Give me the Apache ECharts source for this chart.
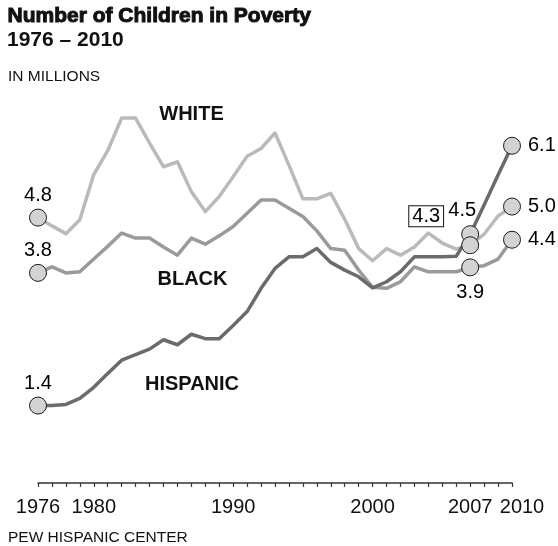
<!DOCTYPE html>
<html><head><meta charset="utf-8">
<script src="https://cdn.jsdelivr.net/npm/echarts@6/dist/echarts.min.js"></script>
<style>html,body{margin:0;padding:0;background:#fff}#c{width:558px;height:546px}</style>
</head><body><div id="c"></div>
<script>
const years = [1976,1977,1978,1979,1980,1981,1982,1983,1984,1985,1986,1987,1988,1989,1990,1991,1992,1993,1994,1995,1996,1997,1998,1999,2000,2001,2002,2003,2004,2005,2006,2007,2008,2009,2010];
const white = [4.8,4.65,4.51,4.76,5.58,6.01,6.6,6.6,6.15,5.72,5.81,5.27,4.91,5.18,5.54,5.91,6.05,6.33,5.75,5.14,5.14,5.24,4.77,4.24,4.02,4.24,4.12,4.27,4.52,4.34,4.23,4.3,4.5,4.83,5.0];
const black = [3.8,3.91,3.8,3.82,4.05,4.28,4.52,4.43,4.43,4.27,4.12,4.43,4.32,4.47,4.64,4.88,5.12,5.12,4.97,4.82,4.56,4.24,4.21,3.85,3.54,3.52,3.64,3.91,3.82,3.82,3.82,3.9,3.93,4.05,4.4];
const hispanic = [1.4,1.4,1.42,1.53,1.73,1.98,2.22,2.32,2.42,2.59,2.5,2.69,2.61,2.61,2.85,3.1,3.52,3.88,4.09,4.09,4.24,3.99,3.85,3.73,3.53,3.64,3.82,4.09,4.09,4.09,4.1,4.5,5.03,5.57,6.1];
const tickLabels = [1976,1980,1990,2000,2007,2010];
const endYears = [1976,2007,2010];
const groupNames = ['WHITE','BLACK','HISPANIC'];

const FONT = 'Liberation Sans';
const C_WHITE = '#bababa', C_BLACK = '#9a9a9a', C_HISP = '#6b6b6b';

const chart = echarts.init(document.getElementById('c'), null, {renderer:'canvas'});
const pairs = vals => years.map((y,i)=>[y, vals[i]]);
const val = (vals, y) => vals[years.indexOf(y)];
const fmt = p => p.value[1].toFixed(1);
const baseLabel = {show:true, formatter:fmt, fontFamily:FONT, fontSize:20, color:'#000', opacity:1, textBorderWidth:0};

function endPoints(vals, labels){
  return endYears.map((y,i)=>({value:[y, val(vals,y)], label:Object.assign({}, baseLabel, labels[i])}));
}

const lineSeries = (name, vals, color) => ({
  type:'line', name, data:pairs(vals), symbol:'none', z:2,
  lineStyle:{color, width:3.5, cap:'round', join:'round', opacity:1}, silent:true, animation:false
});
const dotSeries = (name, data) => ({
  type:'scatter', name, data, symbol:'circle', symbolSize:17, z:5,
  itemStyle:{color:'#d3d3d3', borderColor:'#1a1a1a', borderWidth:1, opacity:1}, animation:false, silent:true
});
const txt = (text, size, weight, extra) => Object.assign({text, fontFamily:FONT, fontSize:size, fontWeight:weight, fill:'#111'}, extra||{});

const option = {
  animation:false,
  grid:{left:38, right:46, top:96, bottom:60.3, containLabel:false},
  xAxis:{type:'value', min:1976, max:2010, interval:1,
    axisLine:{show:true, lineStyle:{color:'#333', width:1.5}},
    axisTick:{show:true, length:4, lineStyle:{color:'#333', width:1.2}},
    splitLine:{show:false},
    axisLabel:{show:true, showMinLabel:true, showMaxLabel:true, margin:12, fontFamily:FONT, fontSize:20, color:'#111',
      formatter:v => tickLabels.includes(v) ? (v===2010 ? '{r|2010}' : String(v)) : '',
      rich:{r:{fontFamily:FONT, fontSize:20, color:'#111', padding:[0,0,0,20]}}}
  },
  yAxis:{type:'value', min:-0.05, max:7, show:false, splitLine:{show:false}},
  series:[
    lineSeries('White', white, C_WHITE),
    lineSeries('Black', black, C_BLACK),
    lineSeries('Hispanic', hispanic, C_HISP),
    dotSeries('Black pts', endPoints(black, [
      {position:'top', distance:3},
      {position:'bottom', distance:6},
      {position:'right', distance:7}
    ])),
    dotSeries('Hispanic pts', endPoints(hispanic, [
      {position:'top', distance:3},
      {position:'top', distance:5, offset:[-8,0]},
      {position:'right', distance:7}
    ])),
    dotSeries('White pts', endPoints(white, [
      {position:'top', distance:3},
      {position:'inside', offset:[-44,-29], backgroundColor:'#fff', borderColor:'#111', borderWidth:1, padding:[1,3,-1,3]},
      {position:'right', distance:7}
    ]))
  ],
  graphic:[
    {type:'text', left:7, top:5.5, style:txt('Number of Children in Poverty', 21, 'bold')},
    {type:'text', left:7, top:30, style:txt('1976 \u2013 2010', 21, 'bold')},
    {type:'text', left:8, top:68.5, style:txt('IN MILLIONS', 15.5, 'normal')},
    {type:'text', left:8, top:530, style:txt('PEW HISPANIC CENTER', 15.5, 'normal')},
    {type:'text', x:191.5, y:114.5, style:txt(groupNames[0], 20, 'bold', {textAlign:'center', textVerticalAlign:'middle'})},
    {type:'text', x:192.5, y:279, style:txt(groupNames[1], 20, 'bold', {textAlign:'center', textVerticalAlign:'middle'})},
    {type:'text', x:192, y:384.5, style:txt(groupNames[2], 20, 'bold', {textAlign:'center', textVerticalAlign:'middle'})}
  ]
};
chart.setOption(option);

const p = chart.convertToPixel({xAxisIndex:0, yAxisIndex:0}, [2007, val(white,2007)]);
chart.setOption({graphic:[
  {type:'line', z:100, shape:{x1:p[0]-25, y1:p[1]-20, x2:p[0]-2.5, y2:p[1]-5}, style:{stroke:'#111', lineWidth:1}}
]});
</script></body></html>
